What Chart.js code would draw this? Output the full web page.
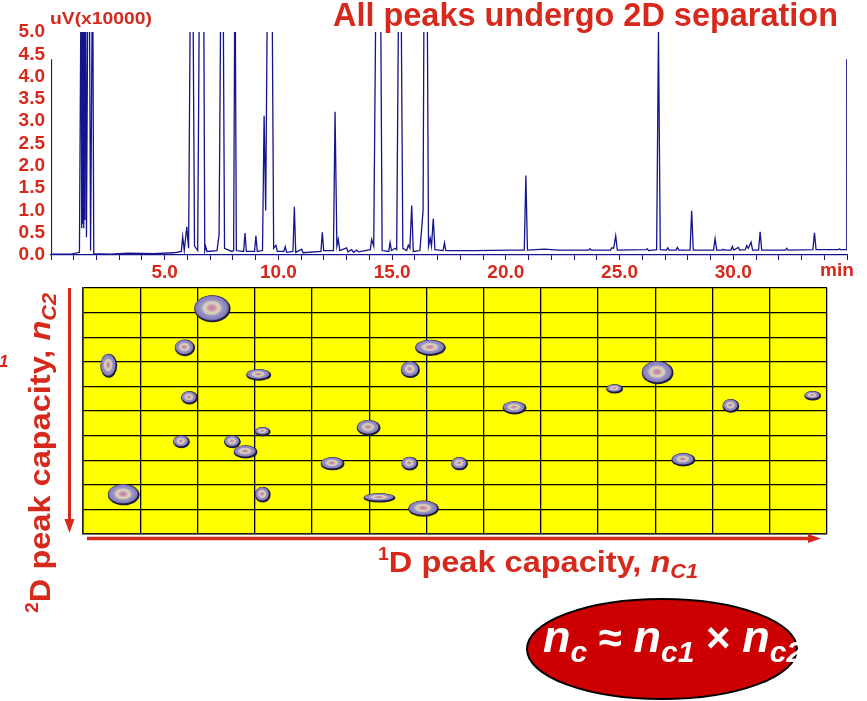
<!DOCTYPE html>
<html>
<head>
<meta charset="utf-8">
<script src="https://cdn.jsdelivr.net/npm/chart.js@4.4.0/dist/chart.umd.min.js"></script>
<style>
html, body { margin: 0; padding: 0; background: #fff; }
#wrap { position: relative; width: 867px; height: 701px; overflow: hidden; }
#wrap canvas { position: absolute; left: 0; top: 0; }
</style>
</head>
<body>
<div id="wrap">
	<canvas id="spots" width="867" height="701"></canvas>
	<canvas id="trace" width="867" height="285"></canvas>
</div>
<script>
// chromatogram, time in min, signal in uV x10000 (tall peaks run off the top)
const traceTime = [0.00, 0.02, 0.90, 1.25, 1.33, 1.35, 1.37, 1.39, 1.41, 1.43, 1.45, 1.47, 1.49, 1.52, 1.56, 1.63, 1.68, 1.74, 1.83, 1.88,
	2.60, 3.40, 4.50, 5.40, 5.73, 5.79, 5.86, 5.97, 6.05, 6.14, 6.23, 6.31, 6.45, 6.55, 6.70, 6.76, 6.80, 6.86,
	7.30, 7.39, 7.48, 7.56, 7.63, 7.95, 8.03, 8.09, 8.15, 8.47, 8.53, 8.59, 8.95, 9.01, 9.07,
	9.30, 9.37, 9.44, 9.53, 9.71, 9.79, 9.89, 9.95, 10.24, 10.30, 10.36, 10.64, 10.70, 10.76, 11.02, 11.08,
	11.87, 11.93, 11.99, 12.42, 12.49, 12.57, 12.63, 12.70, 13.00, 13.06, 13.22, 13.30, 13.44, 13.52,
	14.04, 14.10, 14.19, 14.32, 14.47, 14.56, 14.85, 14.91, 14.97, 15.13, 15.20, 15.30, 15.38, 15.47,
	15.64, 15.71, 15.78, 15.86, 15.93, 16.22, 16.36, 16.42, 16.52, 16.60, 16.67, 16.73, 16.81, 16.88,
	17.24, 17.30, 17.36, 18.60, 20.20, 20.81, 20.88, 20.95, 21.70, 22.30, 23.64, 23.70, 23.76,
	24.60, 24.66, 24.74, 24.83, 24.90, 26.16, 26.22, 26.28, 26.63, 26.71, 26.79, 27.06, 27.12, 27.18,
	27.48, 27.54, 27.60, 28.10, 28.17, 28.24, 29.13, 29.20, 29.27, 29.51, 29.56, 29.61, 29.90, 29.96, 30.02,
	30.22, 30.28, 30.53, 30.59, 30.66, 30.78, 30.85, 31.11, 31.18, 31.25, 32.29, 32.35, 32.41,
	33.50, 33.57, 33.64, 34.62, 34.67, 34.72, 34.97, 34.99];
const traceSignal = [4.39, 0.02, 0.02, 0.06, 7.0, 0.6, 7.0, 0.7, 7.0, 0.6, 7.0, 0.8, 7.0, 7.0, 0.40, 7.0, 7.0, 0.10, 7.0, 0.03,
	0.02, 0.04, 0.03, 0.05, 0.08, 0.41, 0.10, 0.63, 0.15, 7.0, 7.0, 0.20, 0.10, 8.0, 8.0, 0.10, 0.19, 0.08,
	0.10, 0.45, 7.0, 7.0, 0.15, 0.08, 0.10, 7.0, 0.10, 0.08, 0.49, 0.08, 0.08, 0.43, 0.08,
	0.10, 3.12, 1.00, 7.0, 7.0, 0.15, 0.22, 0.08, 0.08, 0.19, 0.06, 0.08, 1.08, 0.06, 0.13, 0.05,
	0.08, 0.51, 0.10, 0.10, 3.21, 0.20, 0.35, 0.10, 0.16, 0.07, 0.12, 0.06, 0.11, 0.07,
	0.12, 0.35, 0.20, 8.0, 8.0, 0.10, 0.08, 0.28, 0.10, 0.15, 0.12, 7.0, 7.0, 0.15,
	0.10, 0.22, 0.15, 1.11, 0.08, 0.10, 1.00, 8.0, 8.0, 0.20, 0.38, 0.20, 0.82, 0.12,
	0.10, 0.27, 0.10, 0.10, 0.11, 0.11, 1.78, 0.11, 0.13, 0.11, 0.11, 0.14, 0.11,
	0.11, 0.16, 0.15, 0.43, 0.11, 0.12, 0.14, 0.10, 0.12, 5.00, 0.12, 0.11, 0.16, 0.11,
	0.11, 0.17, 0.11, 0.11, 0.99, 0.11, 0.11, 0.37, 0.11, 0.11, 0.13, 0.11, 0.11, 0.19, 0.11,
	0.17, 0.11, 0.12, 0.21, 0.15, 0.29, 0.11, 0.11, 0.52, 0.11, 0.11, 0.15, 0.11,
	0.12, 0.50, 0.12, 0.12, 0.14, 0.12, 0.12, 4.39];
const timeLabels = [5, 10, 15, 20, 25, 30];

// 2D map: spot centres in grid cells (x = 1D column, y = 2D row from top) and half widths
const gridCols = 13;
const gridRows = 10;
const spotX  = [2.25, 1.77, 0.44, 3.06, 1.85, 3.13, 1.71, 2.60, 2.83, 4.35, 0.70, 3.13, 4.98, 5.17, 5.71, 5.70, 6.06, 5.94, 10.03, 9.28, 7.53, 11.31, 12.74, 6.57, 10.48];
const spotY  = [0.81, 2.40, 3.13, 3.50, 4.43, 5.81, 6.22, 6.22, 6.63, 7.11, 8.37, 8.37, 5.65, 8.50, 3.29, 7.11, 2.40, 8.94, 3.41, 4.07, 4.84, 4.76, 4.35, 7.11, 6.95];
const spotRx = [0.30, 0.16, 0.13, 0.20, 0.13, 0.12, 0.13, 0.13, 0.19, 0.19, 0.26, 0.12, 0.19, 0.26, 0.15, 0.13, 0.25, 0.25, 0.26, 0.13, 0.19, 0.13, 0.13, 0.13, 0.19];
const spotRy = [0.51, 0.30, 0.45, 0.20, 0.23, 0.15, 0.22, 0.22, 0.23, 0.23, 0.39, 0.28, 0.28, 0.15, 0.30, 0.24, 0.29, 0.29, 0.43, 0.15, 0.23, 0.24, 0.15, 0.23, 0.23];

const RED = '#d6291c';
const NAVY = '#14148e';
const FONT = "'Liberation Sans', Arial, sans-serif";

function partsWidth(ctx, parts){
	let w = 0;
	parts.forEach(p => { ctx.font = p.font; w += ctx.measureText(p.text).width; });
	return w;
}

// draws a run of text pieces, squeezed to width when one is given
function drawParts(ctx, parts, x, y, width, color){
	const s = width ? width / partsWidth(ctx, parts) : 1;
	ctx.save();
	ctx.translate(x, y);
	ctx.scale(s, 1);
	ctx.fillStyle = color;
	ctx.textAlign = 'left';
	ctx.textBaseline = 'alphabetic';
	let cx = 0;
	parts.forEach(p => {
		ctx.font = p.font;
		ctx.fillText(p.text, cx, p.dy || 0);
		cx += ctx.measureText(p.text).width;
	});
	ctx.restore();
}

const traceText = {
	id: 'traceText',
	afterDraw(chart){
		const ctx = chart.ctx;
		drawParts(ctx, [{text: 'All peaks undergo 2D separation', font: 'bold 33px ' + FONT}], 333, 26, 505, RED);
		drawParts(ctx, [{text: 'uV(x10000)', font: 'bold 17px ' + FONT}], 50, 24, 102, RED);
		ctx.save();
		ctx.fillStyle = RED;
		ctx.font = 'bold 19px ' + FONT;
		ctx.textAlign = 'center';
		ctx.textBaseline = 'top';
		ctx.fillText('min', 837, 261);
		ctx.restore();
	}
};

function drawSpot(ctx, cx, cy, rx, ry){
	ctx.save();
	ctx.beginPath();
	ctx.ellipse(cx + 0.6, cy + 0.8, rx + 1, ry + 1, 0, 0, Math.PI * 2);
	ctx.fillStyle = '#1c1a3a';
	ctx.fill();
	ctx.translate(cx, cy);
	ctx.scale(rx, ry);
	const g = ctx.createRadialGradient(0, 0, 0, 0, 0, 1);
	g.addColorStop(0, '#c07ea0');
	g.addColorStop(0.22, '#cc98aa');
	g.addColorStop(0.36, '#d9d2b6');
	g.addColorStop(0.52, '#cbc6b8');
	g.addColorStop(0.62, '#9e94c6');
	g.addColorStop(0.88, '#8a80bc');
	g.addColorStop(1, '#5f5996');
	ctx.beginPath();
	ctx.arc(0, 0, 1, 0, Math.PI * 2);
	ctx.fillStyle = g;
	ctx.fill();
	ctx.restore();
}

function arrow(ctx, x1, y1, x2, y2, head, half){
	const a = Math.atan2(y2 - y1, x2 - x1);
	const bx = x2 - Math.cos(a) * head, by = y2 - Math.sin(a) * head;
	ctx.beginPath();
	ctx.moveTo(x1, y1);
	ctx.lineTo(bx, by);
	ctx.stroke();
	ctx.beginPath();
	ctx.moveTo(x2, y2);
	ctx.lineTo(bx - Math.sin(a) * half, by + Math.cos(a) * half);
	ctx.lineTo(bx + Math.sin(a) * half, by - Math.cos(a) * half);
	ctx.closePath();
	ctx.fill();
}

const mapDecor = {
	id: 'mapDecor',
	beforeDraw(chart){
		const a = chart.chartArea;
		const ctx = chart.ctx;
		ctx.save();
		ctx.fillStyle = '#ffff00';
		ctx.fillRect(a.left, a.top, a.right - a.left, a.bottom - a.top);
		ctx.restore();
	},
	afterDatasetsDraw(chart){
		const ctx = chart.ctx;
		const xs = chart.scales.x, ys = chart.scales.y;
		chart.getDatasetMeta(0).data.forEach((pt, i) => {
			const rx = Math.abs(xs.getPixelForValue(spotX[i] + spotRx[i]) - xs.getPixelForValue(spotX[i]));
			const ry = Math.abs(ys.getPixelForValue(spotY[i] + spotRy[i]) - ys.getPixelForValue(spotY[i]));
			drawSpot(ctx, pt.x, pt.y, rx, ry);
		});
	},
	afterDraw(chart){
		const ctx = chart.ctx;
		const a = chart.chartArea;
		ctx.save();
		ctx.strokeStyle = RED;
		ctx.fillStyle = RED;
		ctx.lineWidth = 3;
		arrow(ctx, 69.5, a.top, 69.5, a.bottom - 1, 14, 5);
		ctx.lineWidth = 3.5;
		arrow(ctx, a.left + 4, 538.5, a.right - 6, 538.5, 13, 4.5);

		const big = 'bold 30px ' + FONT, bigI = 'italic bold 30px ' + FONT;
		drawParts(ctx, [
			{text: '1', font: 'bold 18px ' + FONT, dy: -12},
			{text: 'D peak capacity, ', font: big},
			{text: 'n', font: bigI},
			{text: 'C1', font: 'italic bold 20px ' + FONT, dy: 6}
		], 378, 572, 320, RED);

		ctx.save();
		ctx.translate(50, 613);
		ctx.rotate(-Math.PI / 2);
		drawParts(ctx, [
			{text: '2', font: 'bold 18px ' + FONT, dy: -12},
			{text: 'D peak capacity, ', font: big},
			{text: 'n', font: bigI},
			{text: 'C2', font: 'italic bold 20px ' + FONT, dy: 6}
		], 0, 0, 320, RED);
		ctx.restore();

		ctx.font = 'italic bold 17px ' + FONT;
		ctx.fillText('1', -1, 367);

		// n_c formula badge
		ctx.beginPath();
		ctx.ellipse(662, 649, 135, 50, 0, 0, Math.PI * 2);
		ctx.fillStyle = '#cc0000';
		ctx.fill();
		ctx.lineWidth = 2;
		ctx.strokeStyle = '#000';
		ctx.stroke();
		ctx.save();
		ctx.beginPath();
		ctx.rect(500, 580, 306, 121);
		ctx.clip();
		const n = 'italic bold 45px ' + FONT, sub = 'italic bold 30px ' + FONT, op = 'bold 42px ' + FONT;
		drawParts(ctx, [
			{text: 'n', font: n}, {text: 'c', font: sub, dy: 10},
			{text: ' \u2248 ', font: op},
			{text: 'n', font: n}, {text: 'c1', font: sub, dy: 10},
			{text: ' \u00d7 ', font: op},
			{text: 'n', font: n}, {text: 'c2', font: sub, dy: 10}
		], 543, 652, null, '#ffffff');
		ctx.restore();
		ctx.restore();
	}
};

function buildTrace(){
	new Chart(document.getElementById('trace'), {
		type: 'line',
		data: {
			datasets: [{
				data: traceTime.map((t, i) => ({x: t, y: traceSignal[i]})),
				borderColor: NAVY,
				borderWidth: 1.3,
				pointRadius: 0,
				tension: 0,
				fill: false
			}]
		},
		options: {
			responsive: false,
			animation: false,
			events: [],
			layout: { padding: { left: 0, right: 20, top: 32, bottom: 0 } },
			plugins: { legend: { display: false }, tooltip: { enabled: false } },
			scales: {
				x: {
					type: 'linear', min: 0, max: 35,
					afterFit: s => { s.height = 30; },
					ticks: {
						stepSize: 1, autoSkip: false, maxRotation: 0, padding: 1,
						color: RED, font: { family: FONT, size: 19, weight: 'bold' },
						callback: v => timeLabels.includes(v) ? v.toFixed(1) : ''
					},
					grid: { drawOnChartArea: false, drawTicks: true, tickLength: 5, color: NAVY, lineWidth: 1 },
					border: { color: NAVY, width: 1.2 }
				},
				y: {
					min: 0, max: 5,
					afterFit: s => { s.width = 51; },
					ticks: {
						stepSize: 0.5, autoSkip: false, padding: 6,
						color: RED, font: { family: FONT, size: 19, weight: 'bold' },
						callback: v => v.toFixed(1)
					},
					grid: { display: false, drawTicks: false },
					border: { display: false }
				}
			}
		},
		plugins: [traceText]
	});
}

function buildMap(){
	const lines = { color: '#000', lineWidth: 1.3, drawTicks: false };
	new Chart(document.getElementById('spots'), {
		type: 'scatter',
		data: { datasets: [{ data: spotX.map((x, i) => ({x: x, y: spotY[i]})), pointRadius: 0 }] },
		options: {
			responsive: false,
			animation: false,
			events: [],
			layout: { padding: { left: 83, right: 40, top: 288, bottom: 167 } },
			plugins: { legend: { display: false }, tooltip: { enabled: false } },
			scales: {
				x: {
					min: 0, max: gridCols,
					afterFit: s => { s.height = 0; },
					ticks: { display: false, stepSize: 1 },
					grid: lines,
					border: { color: '#222', width: 1.6 }
				},
				y: {
					min: 0, max: gridRows, reverse: true,
					afterFit: s => { s.width = 0; },
					ticks: { display: false, stepSize: 1 },
					grid: lines,
					border: { color: '#222', width: 1.6 }
				}
			}
		},
		plugins: [mapDecor]
	});
}

buildMap();
buildTrace();
</script>
</body>
</html>
